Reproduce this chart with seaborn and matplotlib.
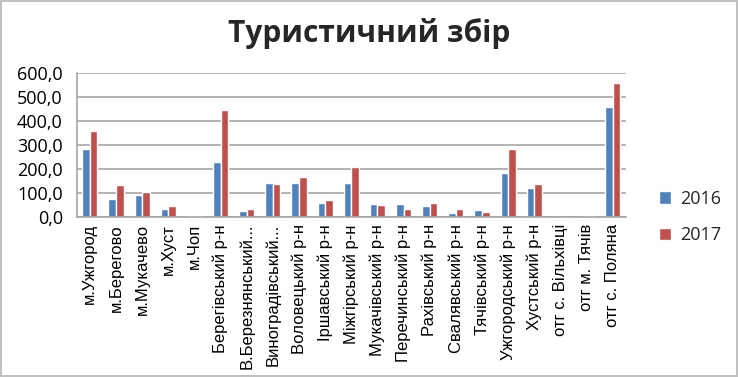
import matplotlib
matplotlib.use("Agg")
import matplotlib.pyplot as plt
import seaborn as sns
import pandas as pd
from matplotlib.ticker import FuncFormatter, MultipleLocator

categories = ["м.Ужгород", "м.Берегово", "м.Мукачево", "м.Хуст", "м.Чоп",
              "Берегівський р-н", "В.Березнянський...", "Виноградівський...",
              "Воловецький р-н", "Іршавський р-н", "Міжгірський р-н",
              "Мукачівський р-н", "Перечинський р-н", "Рахівський р-н",
              "Свалявський р-н", "Тячівський р-н", "Ужгородський р-н",
              "Хустський р-н", "отг с. Вільхівці", "отг м. Тячів", "отг с. Поляна"]
values_2016 = [285, 75, 92, 32, 3, 228, 25, 142, 142, 59, 142, 53, 53, 46, 18, 29, 184, 121, 2, 2, 458]
values_2017 = [358, 133, 106, 46, 3, 448, 32, 140, 167, 71, 211, 50, 32, 61, 32, 21, 285, 138, 0.5, 3, 557]
series = ["2016", "2017"]
title = "Туристичний збір"

df = pd.DataFrame({
    "cat": categories * 2,
    "val": values_2016 + values_2017,
    "year": [series[0]] * len(categories) + [series[1]] * len(categories),
})

sns.set_theme(style="white")
plt.rcParams['font.family'] = ['Liberation Sans', 'DejaVu Sans']

fig = plt.figure(figsize=(7.38, 3.77), dpi=100)
fig.patch.set_edgecolor("#BFBFBF")
fig.patch.set_linewidth(1.5)
ax = fig.add_axes([0.104, 0.424, 0.744, 0.382])

sns.barplot(data=df, x="cat", y="val", hue="year",
            palette=["#4F81BD", "#C0504D"], width=0.58, ax=ax,
            saturation=1, legend=True)

ax.set_ylim(0, 600)
ax.yaxis.set_major_locator(MultipleLocator(100))
ax.yaxis.set_major_formatter(FuncFormatter(lambda v, p: f"{v:.1f}".replace(".", ",")))
ax.grid(axis="y", color="#A6A6A6", linewidth=1.2)
ax.set_axisbelow(True)
ax.set_xlim(-0.5, len(categories) - 0.5)
for s in ["top", "right"]:
    ax.spines[s].set_visible(False)
for s in ["left", "bottom"]:
    ax.spines[s].set_color("#A6A6A6")
    ax.spines[s].set_linewidth(1.2)
ax.set_xlabel("")
ax.set_ylabel("")
ax.tick_params(axis="y", labelsize=13, colors="#000000", length=0, pad=10)
ax.tick_params(axis="x", labelsize=12, colors="#000000", length=0, pad=5)
for lbl in ax.get_yticklabels():
    lbl.set_fontfamily(['Open Sans', 'DejaVu Sans'])
plt.setp(ax.get_xticklabels(), rotation=90)

leg = ax.legend(loc="center left", bbox_to_anchor=(1.03, 0.0), frameon=False,
                handlelength=0.7, handleheight=0.7,
                labelspacing=1.0, handletextpad=0.5,
                prop={'family': ['Open Sans', 'DejaVu Sans'], 'size': 13})

fig.text(0.5, 0.91, title, ha="center", va="center", fontsize=21.5,
         fontweight="bold", family=['Open Sans', 'DejaVu Sans'])

fig.savefig("out.png", dpi=100, edgecolor=fig.get_edgecolor())
